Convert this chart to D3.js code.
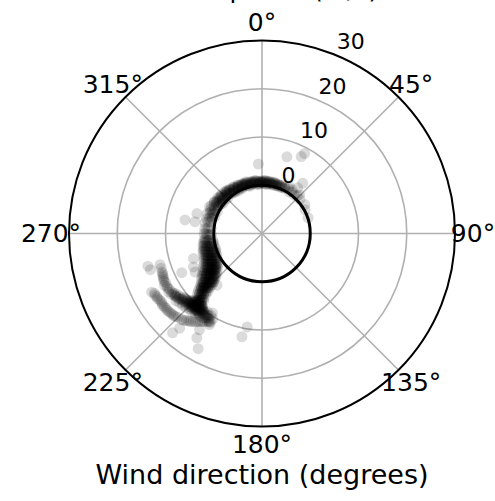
<!DOCTYPE html>
<html>
<head>
<meta charset="utf-8">
<script src="https://cdn.jsdelivr.net/npm/d3@7"></script>
<style>
  body { margin: 0; background: #fff; }
  text { font-family: "DejaVu Sans", sans-serif; fill: #000; }
</style>
</head>
<body>
<div id="chart"></div>
<script>
// readings are [direction in degrees, speed in m/s]
var topArc = [
  [285,1.9],[287,0.8],[286,1.4],[288,1.2],
  [290,2.1],[291,1.0],[292,1.6],[289,0.4],[293,0.9],
  [295,1.8],[296,0.9],[294,1.4],[297,2.2],[296,0.3],[298,1.3],
  [300,1.5],[301,0.7],[299,2.0],[302,1.1],[303,1.8],[303,0.6],[304,1.4],
  [305,1.3],[306,0.5],[304,1.9],[307,1.0],[306,1.6],[308,0.2],[308,1.2],[309,0.6],
  [310,1.4],[311,0.8],[309,1.8],[312,1.1],[313,0.4],[311,1.6],[313,1.5],[314,0.9],
  [315,1.2],[316,0.6],[314,1.7],[317,1.0],[318,1.4],[316,0.2],[318,0.8],[319,1.1],
  [320,1.3],[321,0.7],[319,1.6],[322,1.0],[323,0.4],[321,1.5],[322,0.6],[323,1.3],
  [325,1.1],[326,0.6],[324,1.4],[327,0.9],[328,1.3],[326,0.2],[327,0.4],[328,1.0],
  [330,1.0],[331,0.5],[329,1.3],[332,0.8],[333,1.2],[331,0.1],[332,0.4],[333,0.9],
  [335,0.9],[336,0.4],[334,1.2],[337,0.7],[338,1.1],[336,0.2],[337,1.0],[338,0.5],
  [340,1.0],[341,0.5],[339,0.8],[342,1.2],[343,0.3],[341,0.9],[342,0.7],[343,0.9],
  [345,0.8],[346,0.4],[344,1.1],[347,0.6],[348,1.0],[346,0.1],[347,0.9],[348,0.4],
  [350,0.9],[351,0.5],[349,0.7],[352,1.1],[353,0.3],[351,0.8],[352,0.6],[353,0.9],
  [355,0.8],[356,0.4],[354,1.0],[357,0.6],[358,0.9],[356,0.2],[357,0.3],[358,0.7],
  [0,0.9],[1,0.5],[359,0.7],[2,1.0],[3,0.3],[1,0.7],[2,0.4],[3,0.8],
  [5,0.8],[6,0.4],[4,1.0],[7,0.6],[8,0.9],[6,0.2],[7,0.9],[8,0.4],
  [10,0.8],[11,0.4],[9,0.6],[12,0.9],[13,0.3],[12,0.5],[13,0.7],
  [15,0.7],[16,0.3],[14,0.9],[17,0.5],[17,0.8],[18,0.4],[19,0.7],
  [20,0.6],[21,0.3],[22,0.8],[24,0.4],[23,0.5],[26,0.7],
  [27,0.5],[30,0.8],[33,0.3],[36,0.6],[40,0.4],[43,0.7],
  [30,1.3],[39,3.4],[44,1.2],[56,0.7],[61,0.2],[71,0.1],[38,2.0],[35,1.0],[48,0.6]
];

var westBand = [
  [281,2.0],[282,1.4],[283,0.9],
  [275,1.9],[276,1.2],[276,0.6],[275,1.5],
  [270,2.0],[269,1.3],[269,0.5],[270,1.6],[269,0.9],
  [264,2.1],[263,1.5],[263,0.9],[262,0.3],[264,1.8],[263,1.2],
  [261,2.3],[260,1.7],[260,1.1],[259,0.5],[261,2.0],[259,0.2],
  [258,2.5],[257,1.9],[257,1.3],[256,0.7],[255,0.2],[258,2.2],[256,1.0],[257,1.6],
  [255,2.6],[254,2.1],[253,1.6],[253,1.1],[252,0.6],[251,0.1],[254,2.4],[252,0.9],
  [253,2.8],[252,2.3],[251,1.8],[250,1.3],[249,0.8],[248,0.3],[252,2.0],[250,1.1],[249,0.5],
  [250,2.9],[249,2.5],[248,2.1],[247,1.7],[246,1.3],[245,0.9],[245,0.4],[248,2.3],[246,1.5],
  [247,3.0],[246,2.6],[245,2.2],[244,1.8],[243,1.4],[242,1.0],[241,0.6],[245,2.4],[243,1.6],[242,0.8],
  [245,3.3],[244,2.9],[243,2.5],[242,2.1],[241,1.8],[240,1.4],[239,1.1],[238,0.8],[243,2.7],[241,1.9],
  [242,3.6],[241,3.2],[240,2.8],[239,2.4],[238,2.1],[237,1.7],[236,1.4],[235,1.1],[240,3.0],[238,2.2],[236,1.5],
  [240,4.0],[239,3.6],[238,3.2],[237,2.9],[236,2.6],[235,2.2],[234,1.9],[233,1.6],[238,3.4],[236,2.7],[234,2.0],
  [238,4.4],[237,4.0],[236,3.6],[235,3.2],[234,2.9],[233,2.6],[232,2.3],[231,2.0],[236,3.4],[234,3.0],[233,2.5],[232,2.2],
  [236,4.8],[235,4.4],[234,4.0],[233,3.7],[232,3.4],[231,3.1],[230,2.8],[229,2.5],[234,4.2],[232,3.5],[230,2.9],
  [235,5.2],[234,4.9],[233,4.5],[232,4.2],[231,3.9],[230,3.6],[229,3.3],[228,3.1],[227,3.0],[233,4.6],[231,4.0],[229,3.4],
  [233,5.7],[232,5.3],[231,5.0],[230,4.7],[229,4.4],[228,4.1],[227,3.8],[226,3.6],[231,5.1],[229,4.5],[227,3.9],
  [231,6.1],[230,5.8],[229,5.5],[228,5.2],[227,4.9],[226,4.6],[225,4.3],[230,5.9],[228,5.3],[227,4.8],[226,4.5],[225,4.2],
  [230,6.6],[229,6.3],[228,6.0],[227,5.7],[226,5.4],[225,5.1],[224,4.9],[228,6.1],[226,5.5],
  [229,7.1],[228,6.8],[227,6.5],[226,6.2],[225,5.9],[224,5.6],[228,6.9],[226,6.3],[225,6.0],[227,6.6],
  [228,7.7],[227,7.4],[226,7.1],[225,6.8],[224,6.6],[223,6.4],[226,7.2],
  [227,8.3],[226,8.0],[225,7.7],[224,7.4],[223,7.1],[226,8.1],[224,7.5],[225,7.8],
  [225,8.8],[224,8.5],[223,8.2],[222,7.9],[224,8.4],
  [224,9.3],[223,9.0],[222,8.7],[221,8.4],[223,8.8],[222,8.5]
];

var southwestArm = [
  [210,10.4],[211,11.2],[212,10.0],[213,10.8],[214,10.4],[215,11.3],[215,9.8],[216,10.6],
  [217,10.1],[217,11.4],[218,10.7],[218,9.9],[219,11.1],[219,10.4],[220,10.8],[220,11.6],
  [220,9.7],[221,10.3],[221,11.0],[222,10.6],[222,11.8],[222,9.6],[223,11.2],[223,10.2],
  [224,10.9],[224,11.7],[224,9.9],[225,11.3],[225,10.5],[226,11.0],[226,12.0],[227,10.6],
  [227,11.5],[228,11.2],[228,12.2],[229,10.8],[229,11.7],[230,11.4],[230,12.3],[231,11.0],
  [232,11.9],[232,12.6],[233,11.5],[234,12.2],[235,11.8],[236,12.6],
  [219,10.2],[220,10.1],[221,10.7],[222,10.2],[223,10.7],[224,10.4],[225,10.8],[218,10.3],
  [217,10.7],[226,10.4],[221,9.4],[223,9.5],[219,9.5],[224,9.2],[222,9.1],
  [222,9.8],[223,9.2],[224,9.6],[225,9.9],[221,9.2],[220,9.4],
  [216,10.2],[218,11.2],[219,10.8],[220,10.4],[221,11.3],[222,10.9],[223,10.0],[224,11.2],
  [225,10.2],[226,10.8],[227,11.1],[228,10.8],[229,11.3],[230,10.9],[231,11.5],[220,11.0],
  [221,10.0],[222,10.4],[223,10.5],[224,10.7],[214,11.0],[213,10.3],[212,10.8],[215,10.6],
  [217,10.4],[219,9.8],[218,10.0],[225,9.6],[226,10.1],[227,10.3],
  // upper strand
  [231,11.7],[233,12.0],[235,12.2],[237,12.3],[239,12.4],[241,12.5],[243,12.4],[245,12.5],
  [247,12.3],[249,12.2],[251,12.1],[253,12.1],[238,12.8],[242,12.9],
  [240,12.6],[244,12.6],[246,12.4],[236,12.1],[234,12.0],[248,12.2],
  // lower strand
  [242,15.9],[240,15.6],[239,15.4],[237,15.3],[235,15.3],[233,15.3],[231,15.3],[229,15.1],
  [227,15.0],[225,14.6],[222,14.2],[220,13.7],[218,13.2],[216,12.6],[214,12.0],[212,11.5],[210,11.2],
  [241,15.5],[238,15.5],[236,15.2],[234,15.4],[232,15.2],[230,15.2],[228,15.0],[226,14.8],
  [223,14.4],[221,13.9],[219,13.5],[217,12.9],[215,12.3],[213,11.8],[211,11.4]
];

var strays = [
  [357,4.4],[18,6.7],[27,7.9],[28,8.8],
  [280,6.2],[287,4.1],[280,4.1],
  [250,5.1],[240,6.0],[244,5.8],[244,8.5],[221,4.2],
  [252,14.3],[254,14.6],
  [222,17.7],[221,16.0],[212,15.5],[209,17.3],[213,13.8],[210,11.8],
  [189,9.6],[191,11.8],[212,9.4]
];

var angleTicks = [0, 45, 90, 135, 180, 225, 270, 315];
var radialTicks = [0, 10, 20, 30];
var radialMin = -10, radialMax = 30;
var labelAngle = 22.5;

var readings = topArc.concat(westBand, southwestArm, strays);

var width = 495, height = 501;
var cx = 262, cy = 233.5, outer = 193;

var svg = d3.select("#chart").append("svg")
  .attr("width", width)
  .attr("height", height)
  .style("background", "#fff");

var r = d3.scaleLinear().domain([radialMin, radialMax]).range([0, outer]);
var toRad = function(d){ return d * Math.PI / 180; };
var px = function(dir, rr){ return cx + rr * Math.sin(toRad(dir)); };
var py = function(dir, rr){ return cy - rr * Math.cos(toRad(dir)); };

// grid
var grid = svg.append("g");
grid.selectAll("line")
  .data(angleTicks)
  .enter().append("line")
  .attr("x1", cx).attr("y1", cy)
  .attr("x2", function(d){ return px(d, outer); })
  .attr("y2", function(d){ return py(d, outer); })
  .attr("stroke", "#b0b0b0")
  .attr("stroke-width", 1.6);

grid.selectAll("circle")
  .data(radialTicks.filter(function(d){ return d > radialTicks[0] && d < radialMax; }))
  .enter().append("circle")
  .attr("cx", cx).attr("cy", cy)
  .attr("r", function(d){ return r(d); })
  .attr("fill", "none")
  .attr("stroke", "#b0b0b0")
  .attr("stroke-width", 1.6);

// scatter
svg.append("g").selectAll("circle")
  .data(readings)
  .enter().append("circle")
  .attr("cx", function(d){ return px(d[0], r(d[1])); })
  .attr("cy", function(d){ return py(d[0], r(d[1])); })
  .attr("r", 5.5)
  .attr("fill", "#000")
  .attr("fill-opacity", 0.14);

// spines
svg.append("circle")
  .attr("cx", cx).attr("cy", cy).attr("r", r(radialMax))
  .attr("fill", "none").attr("stroke", "#000").attr("stroke-width", 2);
svg.append("circle")
  .attr("cx", cx).attr("cy", cy).attr("r", r(0))
  .attr("fill", "none").attr("stroke", "#000").attr("stroke-width", 3);

// angle labels
svg.append("g").selectAll("text")
  .data(angleTicks)
  .enter().append("text")
  .attr("x", function(d){ return px(d, outer + 18); })
  .attr("y", function(d){ return py(d, outer + 18); })
  .attr("text-anchor", "middle")
  .attr("dominant-baseline", "central")
  .style("font-size", "25px")
  .text(function(d){ return d + "°"; });

// radial labels
svg.append("g").selectAll("text")
  .data(radialTicks)
  .enter().append("text")
  .attr("x", function(d){ return px(labelAngle, r(d)) + 1; })
  .attr("y", function(d){ return py(labelAngle, r(d)) - 6; })
  .attr("text-anchor", "start")
  .style("font-size", "22px")
  .text(function(d){ return d; });

// titles
svg.append("text")
  .attr("x", cx).attr("y", -2)
  .attr("text-anchor", "middle")
  .style("font-size", "25px")
  .text("Wind speeds (m/s)");

svg.append("text")
  .attr("x", cx).attr("y", 484)
  .attr("text-anchor", "middle")
  .style("font-size", "27px")
  .text("Wind direction (degrees)");
</script>
</body>
</html>
